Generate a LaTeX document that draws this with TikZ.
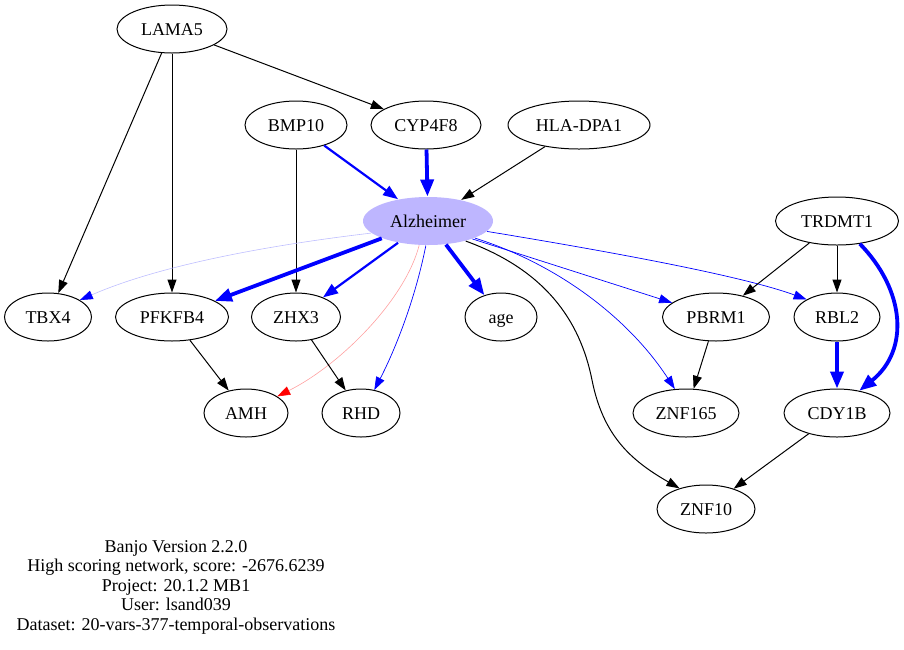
\documentclass[tikz,border=0pt]{standalone}
\usepackage{fontspec}
\setmainfont{Liberation Serif}
\usepackage{tikz}
\usetikzlibrary{shapes.geometric,arrows.meta}
\definecolor{alzfill}{RGB}{190,182,255}
\definecolor{paleblue}{RGB}{190,190,255}
\definecolor{palered}{RGB}{255,160,160}
\tikzset{
    gene-node/.style = {draw=black, ellipse, line width=1pt, minimum height=48pt, inner sep=0pt, text height=15pt, text depth=3pt, font=\fontsize{18}{20}\selectfont},
    alz-node/.style = {gene-node, draw=none, fill=alzfill},
    black-edge/.style = {draw=black, line width=1pt, -{Triangle[length=13pt,width=9pt]}},
    blue-thin/.style = {draw=blue, line width=0.7pt, -{Triangle[length=13pt,width=9pt]}},
    blue-mid/.style = {draw=blue, line width=2.2pt, -{Triangle[length=15pt,width=11pt]}},
    blue-thick/.style = {draw=blue, line width=3.8pt, -{Triangle[length=17pt,width=13pt]}},
    blue-faint/.style = {draw=paleblue, line width=0.6pt, -{Triangle[length=13pt,width=9pt,color=blue]}},
    red-faint/.style = {draw=palered, line width=0.6pt, -{Triangle[length=13pt,width=9pt,color=red]}},
}

\begin{document}
\begin{tikzpicture}[x=1pt, y=-1pt]
\useasboundingbox (0,0) rectangle (904,649);
% top rows
\node[gene-node, minimum width=110pt] (LAMA5) at (172,29) {LAMA5};
\node[gene-node, minimum width=102pt] (BMP10) at (296,125) {BMP10};
\node[gene-node, minimum width=110pt] (CYP4F8) at (426,125) {CYP4F8};
\node[gene-node, minimum width=142pt] (HLADPA1) at (579,125) {HLA-DPA1};
\node[alz-node, minimum width=130pt] (Alzheimer) at (428,221) {Alzheimer};
\node[gene-node, minimum width=123pt] (TRDMT1) at (837,221) {TRDMT1};
% middle row
\node[gene-node, minimum width=87pt] (TBX4) at (48,317) {TBX4};
\node[gene-node, minimum width=113pt] (PFKFB4) at (172,317) {PFKFB4};
\node[gene-node, minimum width=89pt] (ZHX3) at (296,317) {ZHX3};
\node[gene-node, minimum width=72pt] (age) at (501,317) {age};
\node[gene-node, minimum width=107pt] (PBRM1) at (716,317) {PBRM1};
\node[gene-node, minimum width=86pt] (RBL2) at (837,317) {RBL2};
% bottom rows
\node[gene-node, minimum width=84pt] (AMH) at (246,413) {AMH};
\node[gene-node, minimum width=78pt] (RHD) at (361,413) {RHD};
\node[gene-node, minimum width=106pt] (ZNF165) at (686,413) {ZNF165};
\node[gene-node, minimum width=106pt] (CDY1B) at (837,413) {CDY1B};
\node[gene-node, minimum width=98pt] (ZNF10) at (706,509) {ZNF10};

% edges
\draw[black-edge] (LAMA5) -- (TBX4);
\draw[black-edge] (LAMA5) -- (PFKFB4);
\draw[black-edge] (LAMA5) -- (CYP4F8);
\draw[black-edge] (BMP10) -- (ZHX3);
\draw[blue-mid] (BMP10) -- (Alzheimer);
\draw[blue-thick] (CYP4F8) -- (Alzheimer);
\draw[black-edge] (HLADPA1) -- (Alzheimer);
\draw[blue-faint] (Alzheimer.192) .. controls (270,245) and (160,265) .. (TBX4.28);
\draw[blue-thick] (Alzheimer) -- (PFKFB4);
\draw[blue-mid] (Alzheimer) -- (ZHX3);
\draw[red-faint] (Alzheimer.-110) .. controls (405,300) and (340,365) .. (AMH.28);
\draw[blue-thin] (Alzheimer.-95) .. controls (415,300) and (395,350) .. (RHD.60);
\draw[blue-thick] (Alzheimer) -- (age);
\draw[black-edge] (Alzheimer.-28) .. controls (545,270) and (580,320) .. (592,380)
    .. controls (603,435) and (630,460) .. (ZNF10.142);
\draw[blue-thin] (Alzheimer.-20) .. controls (560,265) and (630,320) .. (ZNF165.115);
\draw[blue-thin] (Alzheimer.-22) -- (PBRM1.162);
\draw[blue-thin] (Alzheimer.-10) .. controls (600,250) and (740,275) .. (RBL2.150);
\draw[black-edge] (TRDMT1) -- (PBRM1);
\draw[black-edge] (TRDMT1) -- (RBL2);
\draw[blue-thick] (TRDMT1.-45) .. controls (905,290) and (910,350) .. (CDY1B.45);
\draw[blue-thick] (RBL2) -- (CDY1B);
\draw[black-edge] (PBRM1) -- (ZNF165);
\draw[black-edge] (PFKFB4) -- (AMH);
\draw[black-edge] (ZHX3) -- (RHD);
\draw[black-edge] (CDY1B) -- (ZNF10);

% caption
\node[align=center, font=\fontsize{18}{19.5}\selectfont] (caption) at (176,587) {Banjo Version 2.2.0\\High scoring network, score: -2676.6239\\Project: 20.1.2 MB1\\User: lsand039\\Dataset: 20-vars-377-temporal-observations};
\end{tikzpicture}
\end{document}
